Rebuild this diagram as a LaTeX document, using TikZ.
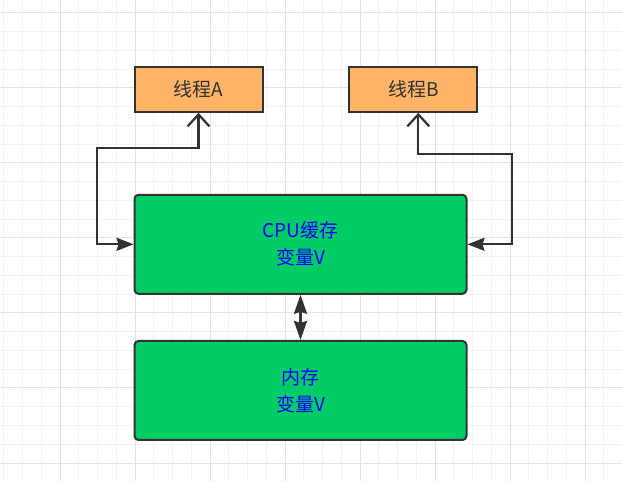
\documentclass[tikz,border=0pt]{standalone}
\usepackage{fontspec}
\setmainfont{Noto Sans CJK SC}
\usetikzlibrary{arrows.meta}
\definecolor{gridminor}{HTML}{F3F3F3}
\definecolor{gridmajor}{HTML}{E4E4E4}
\definecolor{edge}{HTML}{333333}
\definecolor{orangefill}{HTML}{FFB366}
\definecolor{greenfill}{HTML}{00CC66}
\definecolor{textblue}{HTML}{0000FF}
\begin{document}
\begin{tikzpicture}[
    x=1pt,y=-1pt,
    thread/.style={draw=edge,line width=2pt,fill=orangefill,minimum width=128pt,minimum height=45pt,inner sep=0pt,text=edge,font=\fontsize{19}{22}\selectfont},
    store/.style={draw=edge,line width=2pt,fill=greenfill,rounded corners=4pt,minimum width=332pt,minimum height=99pt,inner sep=0pt,align=center,text=textblue,font=\fontsize{19}{27}\selectfont},
    arr/.style={{Straight Barb[length=12pt,width=22pt]}-{Stealth[length=17pt,width=13pt,inset=2pt]},line width=2.2pt,draw=edge},
    dbl/.style={{Stealth[length=19pt,width=13pt,inset=2pt]}-{Stealth[length=19pt,width=13pt,inset=2pt]},line width=2.2pt,draw=edge}
]
\useasboundingbox[fill=white] (0,0) rectangle (622,481);
\foreach \k in {0,...,33}
  \draw[gridminor,line width=1pt] (3.75+18.75*\k,0) -- (3.75+18.75*\k,481);
\foreach \k in {0,...,24}
  \draw[gridminor,line width=1pt] (0,13+18.75*\k) -- (622,13+18.75*\k);
\foreach \k in {0,...,8}
  \draw[gridmajor,line width=1pt] (60+75*\k-75,0) -- (60+75*\k-75,481);
\foreach \k in {0,...,6}
  \draw[gridmajor,line width=1pt] (0,13+75*\k) -- (622,13+75*\k);
\node[thread] (thrA) at (198.5,89.3) {线程A};
\node[thread] (thrB) at (413.3,89.3) {线程B};
\node[store] (cpu) at (300.5,244.3) {CPU缓存\\变量V};
\node[store] (mem) at (300.5,390.5) {内存\\变量V};
\draw[arr] (thrA.south) |- (97.3,148.3) |- (cpu.west);
\draw[arr] ([xshift=5pt]thrB.south) |- (512.3,154) |- (cpu.east);
\draw[dbl] (cpu.south) -- (mem.north);
\end{tikzpicture}
\end{document}
